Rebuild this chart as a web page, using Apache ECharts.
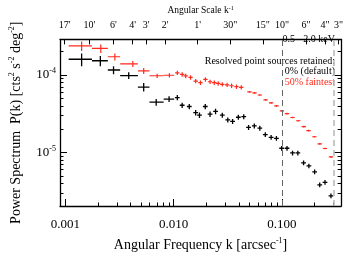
<!DOCTYPE html>
<html>
<head>
<meta charset="utf-8">
<script src="https://cdn.jsdelivr.net/npm/echarts@6/dist/echarts.min.js"></script>
<style>html,body{margin:0;padding:0;background:#fff;}#c{width:346px;height:257px;}</style>
</head>
<body>
<div id="c"></div>
<script>
// ---- data ----
const kBlack = [0.00141,0.00210,0.00278,0.00384,0.00528,0.00689,0.00906,0.0108,0.01197,0.01393,
  0.01595,0.0173,0.01957,0.02167,0.02436,0.02812,0.0316,0.035,0.03954,0.04436,
  0.04916,0.05556,0.06247,0.07018,0.07943,0.08892,0.0994,0.1114,0.1253,0.1402,
  0.1585,0.1774,0.2005,0.2234,0.25,0.2838];
const pBlack = [1.597e-4,1.528e-4,1.160e-4,0.984e-4,0.699e-4,0.446e-4,0.489e-4,0.512e-4,0.407e-4,0.392e-4,
  0.327e-4,0.303e-4,0.392e-4,0.312e-4,0.339e-4,0.303e-4,0.264e-4,0.252e-4,0.285e-4,0.2895e-4,
  0.2104e-4,0.220e-4,0.2063e-4,0.1702e-4,0.1567e-4,0.1524e-4,0.1135e-4,0.1135e-4,0.0986e-4,0.0986e-4,
  0.0735e-4,0.0671e-4,0.0562e-4,0.0382e-4,0.0412e-4,0.0276e-4];
const errBlack = [0.19,0.15,0.12,0.10,0.125,0.10,0.085,0.08,0.08,0.08,
  0.08,0.08,0.08,0.08,0.08,0.075,0.075,0.075,0.075,0.075,
  0.075,0.075,0.075,0.07,0.07,0.07,0.07,0.07,0.07,0.07,
  0.07,0.07,0.07,0.07,0.07,0.07];

const kRed = [0.00141,0.00212,0.00286,0.00419,0.00528,0.00703,0.00912,0.0108,0.01197,0.0129,
  0.01431,0.01596,0.01767,0.01964,0.02167,0.02371,0.02575,0.02812,0.03113,0.03427,
  0.038,0.04207,0.05012,0.0558,0.06247,0.07063,0.07943,0.08892,0.1,0.1114,
  0.1253,0.1416,0.1592,0.1762,0.1995,0.2234,0.2495,0.2838];
const pRed = [2.376e-4,2.204e-4,1.720e-4,1.392e-4,1.129e-4,0.978e-4,0.992e-4,1.068e-4,1.019e-4,0.973e-4,
  0.931e-4,0.834e-4,0.796e-4,0.876e-4,0.818e-4,0.796e-4,0.780e-4,0.759e-4,0.747e-4,0.727e-4,
  0.707e-4,0.693e-4,0.604e-4,0.588e-4,0.552e-4,0.478e-4,0.438e-4,0.400e-4,0.345e-4,0.318e-4,
  0.283e-4,0.257e-4,0.216e-4,0.1915e-4,0.1597e-4,0.1292e-4,0.1126e-4,0.0879e-4];
const errRed = [0.14,0.125,0.105,0.09,0.09,0.065,0.065,0.065,0.065,0.065,
  0.065,0.065,0.065,0.065,0.065,0.065,0.065,0.065,0.065,0.065,
  0.065,0.065,0.025,0.025,0.025,0.025,0.025,0.025,0.025,0.025,
  0.025,0.025,0.025,0.025,0.025,0.025,0.025,0.025];

// wide low-k bins (edges), shared by both series
const wideBinLo = [0.00107,0.001756,0.002461,0.0032,0.00467,0.00597,0.00807];
const wideBinHi = [0.001756,0.002461,0.0032,0.00467,0.00597,0.00807,0.0101];
const narrowHalfDexBlack = 0.022;
const narrowHalfDexRed = 0.02;

// axes ticks / labels
const xMajor = [0.001, 0.01, 0.1];
const xMajorLabels = ['0.001', '0.010', '0.100'];
const xMinor = [0.002,0.003,0.004,0.005,0.006,0.007,0.008,0.009,0.02,0.03,0.04,0.05,0.06,0.07,0.08,0.09,0.2,0.3];
const yMajor = [1e-5, 1e-4];
const yMajorExp = ['-5', '-4'];
const yMinor = [3e-6,4e-6,5e-6,6e-6,7e-6,8e-6,9e-6,2e-5,3e-5,4e-5,5e-5,6e-5,7e-5,8e-5,9e-5,2e-4];
const topScaleArcsec = [1020, 600, 360, 240, 180, 120, 60, 30, 15, 10, 6, 4, 3];
const topLabels = ["17'", "10'", "6'", "4'", "3'", "2'", "1'", '30"', '15"', '10"', '6"', '4"', '3"'];
const vLines = [0.1, 0.3];

const XMIN = 8.9e-4, XMAX = 0.352, YMIN = 2.04e-6, YMAX = 2.88e-4;
const FONT = 'Liberation Serif';
const RED = '#ff2b1c';

function buildData(k, p, e, halfDex) {
  return k.map((kv, i) => {
    let lo, hi;
    if (i < wideBinLo.length) { lo = wideBinLo[i]; hi = wideBinHi[i]; }
    else { lo = kv / Math.pow(10, halfDex); hi = kv * Math.pow(10, halfDex); }
    return [kv, p[i], lo, hi, p[i] * e[i]];
  });
}

function makeRender(color, lw) {
  return function (params, api) {
    const k = api.value(0), p = api.value(1), lo = api.value(2), hi = api.value(3), s = api.value(4);
    const a = api.coord([lo, p]), b = api.coord([hi, p]);
    const c = api.coord([k, p - s]), d = api.coord([k, p + s]);
    return {
      type: 'group',
      children: [
        { type: 'line', shape: { x1: a[0], y1: a[1], x2: b[0], y2: b[1] }, style: { stroke: color, lineWidth: lw } },
        { type: 'line', shape: { x1: c[0], y1: c[1], x2: d[0], y2: d[1] }, style: { stroke: color, lineWidth: lw } }
      ]
    };
  };
}

const topVals = topScaleArcsec.map(a => 1 / a);
function nearestIdx(arr, v) {
  let best = 0, bd = Infinity;
  arr.forEach((t, i) => { const d = Math.abs(Math.log10(t) - Math.log10(v)); if (d < bd) { bd = d; best = i; } });
  return best;
}

const axisLineStyle = { color: '#000', width: 1.3 };
const tickStyle = { color: '#000', width: 1 };

const chart = echarts.init(document.getElementById('c'), null, { renderer: 'canvas' });
chart.setOption({
  animation: false,
  backgroundColor: '#fff',
  grid: { left: 52, right: 1.5, top: 28.3, bottom: 49, containLabel: false },
  xAxis: [
    {
      type: 'log', logBase: 10, min: XMIN, max: XMAX, position: 'bottom',
      axisLine: { show: true, lineStyle: axisLineStyle },
      axisTick: { show: true, inside: true, length: 7, customValues: xMajor, lineStyle: tickStyle },
      axisLabel: { customValues: xMajor, formatter: v => xMajorLabels[nearestIdx(xMajor, v)], fontFamily: FONT, fontSize: 13, color: '#000', margin: 12 },
      splitLine: { show: false }, minorTick: { show: false },
      name: '{n|Angular Frequency k [arcsec}{s|-1}{n|]}', nameLocation: 'middle', nameGap: 31,
      nameTextStyle: { fontFamily: FONT, fontSize: 14, color: '#000',
        rich: { n: { fontFamily: FONT, fontSize: 14, color: '#000', lineHeight: 16 }, s: { fontFamily: FONT, fontSize: 8, color: '#000', verticalAlign: 'top', lineHeight: 16 } } }
    },
    {
      type: 'log', logBase: 10, min: XMIN, max: XMAX, position: 'bottom',
      axisLine: { show: false },
      axisTick: { show: true, inside: true, length: 3.5, customValues: xMinor, lineStyle: tickStyle },
      axisLabel: { show: false }, splitLine: { show: false }
    },
    {
      type: 'log', logBase: 10, min: XMIN, max: XMAX, position: 'top',
      axisLine: { show: true, lineStyle: axisLineStyle },
      axisTick: { show: true, inside: true, length: 5, customValues: topVals, lineStyle: tickStyle },
      axisLabel: { customValues: topVals, formatter: v => topLabels[nearestIdx(topVals, v)], fontFamily: FONT, fontSize: 10, color: '#000', margin: 9 },
      splitLine: { show: false },
      name: '{n|Angular Scale k}{s|-1}', nameLocation: 'middle', nameGap: 21,
      nameTextStyle: { fontFamily: FONT, fontSize: 9.5, color: '#000',
        rich: { n: { fontFamily: FONT, fontSize: 9.5, color: '#000', lineHeight: 11 }, s: { fontFamily: FONT, fontSize: 6, color: '#000', verticalAlign: 'top', lineHeight: 11 } } }
    }
  ],
  yAxis: [
    {
      type: 'log', logBase: 10, min: YMIN, max: YMAX, position: 'left',
      axisLine: { show: true, lineStyle: axisLineStyle },
      axisTick: { show: true, inside: true, length: 7, customValues: yMajor, lineStyle: tickStyle },
      axisLabel: { customValues: yMajor, formatter: v => '{b|10}{s|' + yMajorExp[nearestIdx(yMajor, v)] + '}', margin: 4,
        rich: { b: { fontFamily: FONT, fontSize: 13, color: '#000', lineHeight: 16 }, s: { fontFamily: FONT, fontSize: 8, color: '#000', verticalAlign: 'top', lineHeight: 16 } } },
      splitLine: { show: false },
      name: '{n|Power Spectrum  P(k) [cts}{s|2}{n| s}{s|-2}{n| deg}{s|-2}{n|]}', nameLocation: 'middle', nameGap: 36,
      nameTextStyle: { fontFamily: FONT, fontSize: 14, color: '#000',
        rich: { n: { fontFamily: FONT, fontSize: 14, color: '#000', lineHeight: 16 }, s: { fontFamily: FONT, fontSize: 8, color: '#000', verticalAlign: 'top', lineHeight: 16 } } }
    },
    {
      type: 'log', logBase: 10, min: YMIN, max: YMAX, position: 'left',
      axisLine: { show: false },
      axisTick: { show: true, inside: true, length: 3.5, customValues: yMinor, lineStyle: tickStyle },
      axisLabel: { show: false }, splitLine: { show: false }
    },
    {
      type: 'log', logBase: 10, min: YMIN, max: YMAX, position: 'right',
      axisLine: { show: true, lineStyle: axisLineStyle },
      axisTick: { show: true, inside: true, length: 7, customValues: yMajor, lineStyle: tickStyle },
      axisLabel: { show: false }, splitLine: { show: false }
    },
    {
      type: 'log', logBase: 10, min: YMIN, max: YMAX, position: 'right',
      axisLine: { show: false },
      axisTick: { show: true, inside: true, length: 3.5, customValues: yMinor, lineStyle: tickStyle },
      axisLabel: { show: false }, splitLine: { show: false }
    }
  ],
  series: [
    {
      type: 'custom', name: '50% faintest', xAxisIndex: 0, yAxisIndex: 0,
      renderItem: makeRender(RED, 1.2), encode: { x: 0, y: 1 }, clip: true,
      data: buildData(kRed, pRed, errRed, narrowHalfDexRed)
    },
    {
      type: 'custom', name: '0% (default)', xAxisIndex: 0, yAxisIndex: 0,
      renderItem: makeRender('#000', 1.3), encode: { x: 0, y: 1 }, clip: true,
      data: buildData(kBlack, pBlack, errBlack, narrowHalfDexBlack),
      markLine: {
        silent: true, symbol: 'none', label: { show: false },
        data: [
          { xAxis: vLines[0], lineStyle: { color: '#666', type: [6, 4], width: 1 } },
          { xAxis: vLines[1], lineStyle: { color: '#bbb', type: [6, 4], width: 1.6 } }
        ]
      }
    }
  ],
  graphic: [
    { type: 'text', x: 335, y: 39.5, style: { text: '0.5 - 2.0 keV', font: '10px "Liberation Serif"', fill: '#000', align: 'right', verticalAlign: 'middle' } },
    { type: 'text', x: 335, y: 61, style: { text: 'Resolved point sources retained:', font: '10px "Liberation Serif"', fill: '#000', align: 'right', verticalAlign: 'middle' } },
    { type: 'text', x: 335, y: 71.5, style: { text: '0% (default)', font: '10px "Liberation Serif"', fill: '#000', align: 'right', verticalAlign: 'middle' } },
    { type: 'text', x: 335, y: 82, style: { text: '50% faintest', font: '10px "Liberation Serif"', fill: RED, align: 'right', verticalAlign: 'middle' } }
  ]
});
</script>
</body>
</html>
